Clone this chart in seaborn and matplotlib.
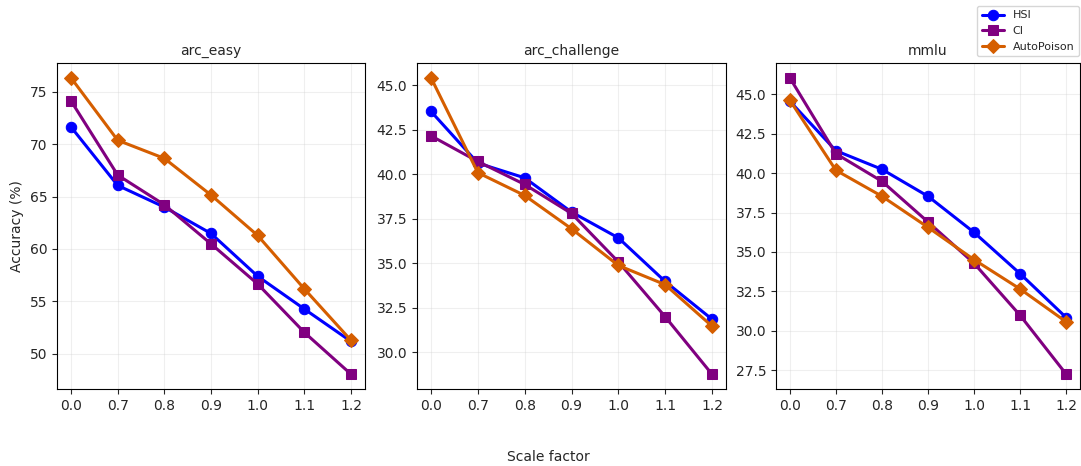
import matplotlib
matplotlib.use("Agg")
import matplotlib.pyplot as plt
import seaborn as sns
import pandas as pd

# Scale factors evaluated (categorical x positions)
scale_labels = ["0.0", "0.7", "0.8", "0.9", "1.0", "1.1", "1.2"]
methods = ["HSI", "CI", "AutoPoison"]
tasks = ["arc_easy", "arc_challenge", "mmlu"]

# Accuracy (%) per task and method
arc_easy_hsi = [71.65, 66.07, 64.0, 61.48, 57.4, 54.27, 51.18]
arc_easy_ci = [74.14, 67.06, 64.22, 60.49, 56.66, 52.04, 48.05]
arc_easy_ap = [76.34, 70.38, 68.65, 65.15, 61.29, 56.19, 51.28]

arc_challenge_hsi = [43.52, 40.62, 39.79, 37.87, 36.42, 33.97, 31.85]
arc_challenge_ci = [42.15, 40.71, 39.42, 37.79, 35.07, 31.99, 28.76]
arc_challenge_ap = [45.41, 40.08, 38.80, 36.93, 34.87, 33.79, 31.46]

mmlu_hsi = [44.56, 41.42, 40.24, 38.53, 36.24, 33.62, 30.84]
mmlu_ci = [46.04, 41.23, 39.48, 36.90, 34.28, 30.98, 27.25]
mmlu_ap = [44.62, 40.18, 38.53, 36.56, 34.51, 32.65, 30.57]

results = {
    "arc_easy": [arc_easy_hsi, arc_easy_ci, arc_easy_ap],
    "arc_challenge": [arc_challenge_hsi, arc_challenge_ci, arc_challenge_ap],
    "mmlu": [mmlu_hsi, mmlu_ci, mmlu_ap],
}

rows = []
for task in tasks:
    for method, vals in zip(methods, results[task]):
        for i, v in enumerate(vals):
            rows.append({"task": task, "method": method, "pos": i, "acc": v})
df = pd.DataFrame(rows)

palette = {"HSI": "#0000FF", "CI": "#800080", "AutoPoison": "#D55E00"}
markers = {"HSI": "o", "CI": "s", "AutoPoison": "D"}

sns.set_style("ticks")
plt.rcParams["font.family"] = ["DejaVu Sans"]

W, H = 1081, 466
fig = plt.figure(figsize=(W / 100, H / 100), dpi=100)

lefts = [57, 417, 776]
widths = [308, 309, 304]
bottom = (H - 389) / H
height = 326 / H

axes = []
for k, task in enumerate(tasks):
    ax = fig.add_axes([lefts[k] / W, bottom, widths[k] / W, height])
    sub = df[df["task"] == task]
    sns.lineplot(
        data=sub, x="pos", y="acc", hue="method", style="method",
        hue_order=methods, style_order=methods,
        palette=palette, markers=markers, dashes=False,
        linewidth=2.2, markersize=7.5,
        ax=ax, legend=(k == 2),
    )
    # markers outlined in their own line colour
    for line in ax.lines:
        line.set_markeredgecolor(line.get_color())
    ax.set_xticks(range(len(scale_labels)))
    ax.set_xticklabels(scale_labels)
    ax.set_title(task, fontsize=10)
    ax.set_xlabel("")
    ax.set_ylabel("Accuracy (%)" if k == 0 else "", fontsize=10)
    ax.tick_params(labelsize=10, direction="out", length=3.5)
    ax.grid(True, alpha=0.3)
    for s in ax.spines.values():
        s.set_visible(True)
        s.set_color("black")
        s.set_linewidth(0.8)
    axes.append(ax)

handles, labels = axes[2].get_legend_handles_labels()
axes[2].get_legend().remove()
for h in handles:
    h.set_markeredgecolor(h.get_color())
fig.legend(handles, labels, loc="upper right",
           bbox_to_anchor=(1079 / W, 1 - 6 / H), borderaxespad=0,
           fontsize=8, frameon=True, handlelength=2.0)

fig.text(548 / W, 1 - 457 / H, "Scale factor", ha="center", va="center", fontsize=10)

fig.savefig("out.png", dpi=100)
